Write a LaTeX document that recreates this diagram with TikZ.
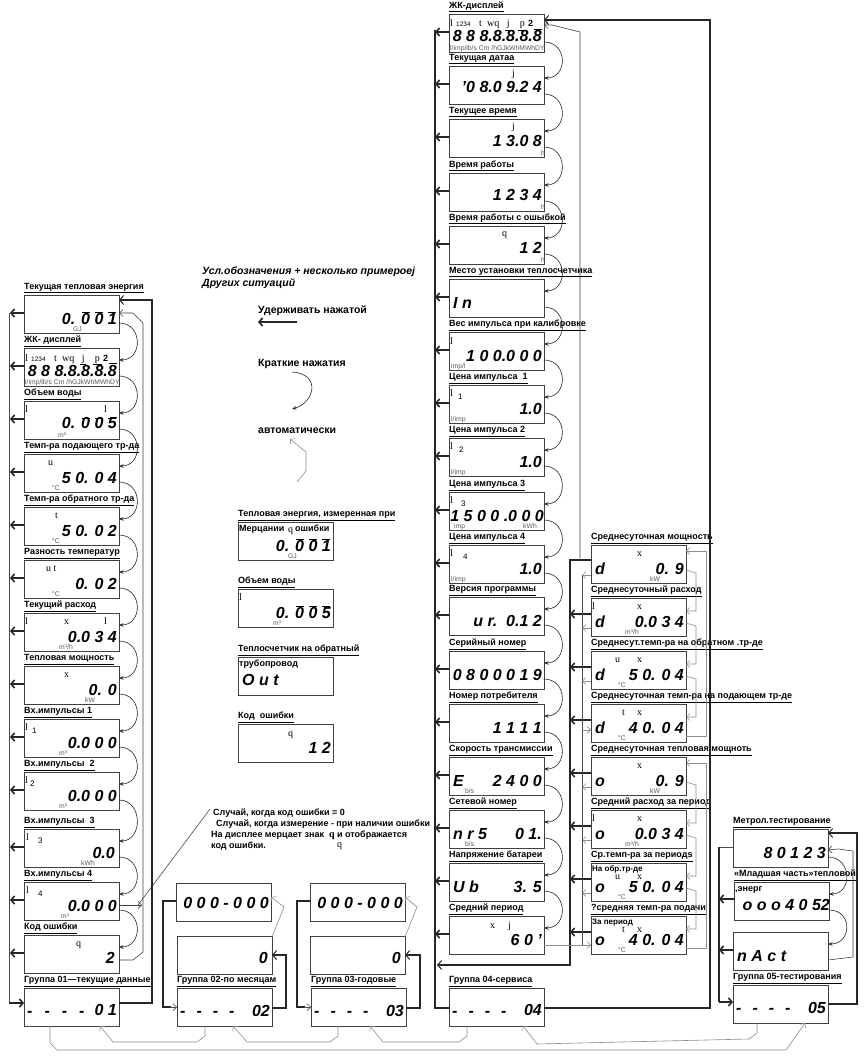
\documentclass[tikz,border=0pt]{standalone}
\usepackage{fontspec}
\setmainfont{Liberation Sans}
\newfontfamily\serf{Liberation Serif}
\usetikzlibrary{arrows.meta,calc}
\newcommand{\lblf}{\fontsize{9}{10}\selectfont\bfseries}
\newcommand{\legf}{\fontsize{10.5}{12}\selectfont\bfseries}
\newcommand{\bigf}{\fontsize{16}{16}\selectfont\bfseries\itshape}
\newcommand{\symf}{\fontsize{10}{10}\selectfont\serf}
\newcommand{\unitfont}{\fontsize{6.8}{7}\selectfont}
\tikzset{
 lcdbox/.style={draw=black!75, line width=0.7pt, minimum width=95pt, minimum height=38pt, anchor=north west, inner sep=0pt, outer sep=0pt},
 lbl/.style={anchor=south west, inner sep=0pt, yshift=1.5pt, font=\lblf},
 digs/.style={anchor=base east, inner sep=0pt, font=\bigf},
 symb/.style={anchor=base west, inner sep=0pt, font=\symf},
 unitf/.style={anchor=base west, inner sep=0pt, font=\unitfont, text=black!65},
 holdarrow/.style={line width=1.6pt, black!85, -{Straight Barb[length=3.5pt,width=8pt]}},
 pressarr/.style={line width=0.6pt, black!85, -{Stealth[length=4.5pt,width=3.5pt]}},
 autoarr/.style={line width=0.6pt, black!45, -{Straight Barb[length=3.5pt,width=7pt]}},
 autoblk/.style={line width=0.6pt, black!75, -{Straight Barb[length=3.5pt,width=7pt]}},
 thinline/.style={line width=0.6pt, black!70},
 thickline/.style={line width=2.3pt, black!85},
 thickarr/.style={line width=2.3pt, black!85, -{Straight Barb[length=4pt,width=9pt,line width=1pt]}}
}
\newcommand{\mybox}[4]{\node[lcdbox] (#1) at (#2,#3) {}; \node[lbl] at (#1.north west) {\underline{#4}};}
\newcommand{\myboxnl}[3]{\node[lcdbox] (#1) at (#2,#3) {};}
\newcommand{\mydg}[3][9]{\node[digs] at ([xshift=-2pt,yshift=#1pt]#2.south east) {#3};}
\newcommand{\mydgl}[3][9]{\node[digs,anchor=base west] at ([xshift=4pt,yshift=#1pt]#2.south west) {#3};}
\newcommand{\mysy}[4][11]{\node[symb] at ([xshift=#3pt,yshift=-#1pt]#2.north west) {#4};}
\newcommand{\mysm}[3]{\node[anchor=base west,inner sep=0pt,font=\fontsize{8}{8}\selectfont] at ([xshift=#2pt,yshift=-14pt]#1.north west) {#3};}
\newcommand{\myun}[3]{\node[unitf] at ([xshift=#2pt,yshift=1.5pt]#1.south west) {#3};}
\newcommand{\myin}[3][1]{\node[anchor=base west,inner sep=0pt,font=\lblf] at ([xshift=#1pt,yshift=-9pt]#2.north west) {#3};}
\newcommand{\myinsm}[2]{\node[anchor=base west,inner sep=0pt,font=\fontsize{8}{9}\selectfont\bfseries] at ([xshift=1pt,yshift=-8.5pt]#1.north west) {#2};}
\newcommand{\myovl}[1]{\foreach \xx in {58,71,84}{\draw[line width=0.8pt] ([xshift=\xx pt,yshift=-17pt]#1.north west) -- ++(8,0);}}
\newcommand{\myprs}[2]{\draw[pressarr] ([yshift=10pt]#1.south east) .. controls +(24,0) and +(24,0) .. ([yshift=-12pt]#2.north east);}
\newcommand{\myhold}[3][18]{\draw[holdarrow] ([yshift=-#1pt]#2.north west) -- ++(-#3,0);}
\newcommand{\mydash}[2][11]{\node[digs,anchor=base west] at ([xshift=3pt,yshift=10pt]#2.south west) {-\hspace{#1pt}-\hspace{#1pt}-\hspace{#1pt}-};}
\newcommand{\mylcdfull}[1]{%
 \mysy[13]{#1}{1}{l}%
 \node[anchor=base west,inner sep=0pt,font=\fontsize{6.5}{7}\selectfont] at ([xshift=7pt,yshift=-13pt]#1.north west) {1234};%
 \mysy[13]{#1}{30}{t}%
 \mysy[13]{#1}{38}{wq}%
 \mysy[13]{#1}{56}{\underline{\,j\,}}%
 \mysy[13]{#1}{69}{\underline{\,p\,}}%
 \node[anchor=base west,inner sep=0pt,font=\fontsize{9}{9}\selectfont\bfseries] at ([xshift=79pt,yshift=-13pt]#1.north west) {2};%
 \draw[line width=0.6pt] ([xshift=85pt,yshift=-15pt]#1.north west) -- ++(8,0);%
 \mydg[10]{#1}{8 8 8.8.8.8.8}%
 \node[unitf] at ([xshift=1pt,yshift=1.2pt]#1.south west) {l/imp/lb/s Cm /hGJkWhMWhDY};}
\begin{document}
\begin{tikzpicture}[x=1pt,y=-1pt]
\fill[white] (0,0) rectangle (863,1056);
\useasboundingbox (0,0) rectangle (863,1056);

% ---------------- left column (group 01)
\mybox{L1}{24}{295}{Текущая тепловая энергия}
\mydg{L1}{0. 0 0 1}\myovl{L1}\myun{L1}{49}{GJ}
\mybox{L2}{24}{348}{ЖК- дисплей}\mylcdfull{L2}
\mybox{L3}{24}{401}{Объем воды}
\mydg[11]{L3}{0. 0 0 5}\myovl{L3}\mysy{L3}{1}{l}\mysy{L3}{80}{l}\myun{L3}{34}{m³}
\mybox{L4}{24}{454}{Темп-ра подающего тр-да}
\mydg{L4}{5 0. 0 4}\mysy{L4}{24}{u}\myun{L4}{28}{°C}
\mybox{L5}{24}{507}{Темп-ра обратного тр-да}
\mydg{L5}{5 0. 0 2}\mysy{L5}{31}{t}\myun{L5}{28}{°C}
\mybox{L6}{24}{560}{Разность температур}
\mydg{L6}{0. 0 2}\mysy{L6}{22}{u t}\myun{L6}{28}{°C}
\mybox{L7}{24}{613}{Текущий расход}
\mydg{L7}{0.0 3 4}\mysy{L7}{1}{l}\mysy{L7}{40}{x}\mysy{L7}{80}{l}\myun{L7}{35}{m³/h}
\mybox{L8}{24}{666}{Тепловая мощность}
\mydg{L8}{0. 0}\mysy{L8}{40}{x}\myun{L8}{61}{kW}
\mybox{L9}{24}{719}{Вх.импульсы 1}
\mydg{L9}{0.0 0 0}\mysy{L9}{1}{l}\mysm{L9}{8}{1}\myun{L9}{35}{m³}
\mybox{L10}{24}{772}{Вх.импульсы\ \ 2}
\mydg{L10}{0.0 0 0}\mysy{L10}{1}{l}\mysm{L10}{6}{2}\myun{L10}{35}{m³}
\mybox{L11}{24}{829}{Вх.импульсы\ \ 3}
\node[digs] at ([xshift=-4pt,yshift=9pt]L11.south east) {0.0};
\mysy{L11}{2}{l}\mysm{L11}{14}{3}\myun{L11}{57}{kWh}
\mybox{L12}{24}{882}{Вх.импульсы 4}
\mydg{L12}{0.0 0 0}\mysy{L12}{2}{l}\mysm{L12}{14}{4}\myun{L12}{37}{m³}
\mybox{L13}{24}{935}{Код ошибки}
\node[digs] at ([xshift=-4pt,yshift=10pt]L13.south east) {2};
\mysy{L13}{52}{q}
\mybox{G1}{24}{988}{Группа 01—текущие данные}
\mydash[12]{G1}\mydg[11]{G1}{0 1}

% ---------------- middle column (group 04)
\mybox{M1}{449}{14}{ЖК-дисплей}\mylcdfull{M1}
\mybox{M2}{449}{66}{Текущая датаа}
\mydg[11]{M2}{'0 8.0 9.2 4}\mysy{M2}{63}{j}
\mybox{M3}{449}{119}{Текущее время}
\mydg[10]{M3}{1 3.0 8}\mysy{M3}{63}{j}\myun{M3}{92}{h}
\mybox{M4}{449}{173}{Время работы}
\mydg[10]{M4}{1 2 3 4}\myun{M4}{92}{h}
\mybox{M5}{449}{226}{Время работы с ошыбкой}
\mydg[10]{M5}{1 2}\mysy{M5}{53}{q}\myun{M5}{92}{h}
\mybox{M6}{449}{279}{Место установки теплосчетчика}
\mydgl{M6}{I n}
\mybox{M7}{449}{332}{Вес импульса при калибровке}
\mydg{M7}{1 0 0.0 0 0}\mysy[12]{M7}{1}{l}\myun{M7}{2}{imp/l}
\mybox{M8}{449}{385}{Цена импульса\ \ 1}
\mydg{M8}{1.0}\mysy{M8}{1}{l}\mysm{M8}{9}{1}\myun{M8}{2}{l/imp}
\mybox{M9}{449}{438}{Цена импульса 2}
\mydg{M9}{1.0}\mysy{M9}{1}{l}\mysm{M9}{10}{2}\myun{M9}{2}{l/imp}
\mybox{M10}{449}{492}{Цена импульса 3}
\node[digs] at ([xshift=0pt,yshift=9pt]M10.south east) {1 5 0 0 .0 0 0};
\mysy{M10}{1}{l}\mysm{M10}{12}{3}\myun{M10}{5}{imp}\myun{M10}{74}{kWh}
\mybox{M11}{449}{545}{Цена импульса 4}
\mydg{M11}{1.0}\mysy{M11}{1}{l}\mysm{M11}{14}{4}\myun{M11}{2}{l/imp}
\mybox{M12}{449}{597}{Версия программы}
\mydg{M12}{u r.\ \ 0.1 2}
\mybox{M13}{449}{651}{Серийный номер}
\mydg{M13}{0 8 0 0 0 1 9}
\mybox{M14}{449}{704}{Номер потребителя}
\mydg{M14}{1 1 1 1}
\mybox{M15}{449}{757}{Скорость трансмиссии}
\mydgl{M15}{E}\mydg{M15}{2 4 0 0}\myun{M15}{16}{b/s}
\mybox{M16}{449}{810}{Сетевой номер}
\mydgl{M16}{n r 5}\mydg{M16}{0 1.}\myun{M16}{16}{b/s}
\mybox{M17}{449}{863}{Напряжение батареи}
\mydgl{M17}{U b}\mydg{M17}{3. 5}
\mybox{M18}{449}{916}{Средний период}
\mysy[12]{M18}{41}{x}\mysy[12]{M18}{59}{j}\mydg{M18}{6 0 '}
\mybox{G4}{449}{988}{Группа 04-сервиса}
\mydash{G4}\mydg[11]{G4}{04}

% ---------------- right column (averages)
\mybox{R1}{591}{545}{Среднесуточная мощность}
\mydgl{R1}{d}\mysy{R1}{46}{x}\mydg{R1}{0. 9}\myun{R1}{59}{kW}
\mybox{R2}{591}{598}{Среднесуточный расход}
\mydgl{R2}{d}\mysy{R2}{1}{l}\mysy{R2}{46}{x}\mydg{R2}{0.0 3 4}\myun{R2}{34}{m³/h}
\mybox{R3}{591}{651}{Среднесут.темп-ра на обратном .тр-де}
\mydgl{R3}{d}\mysy{R3}{24}{u}\mysy{R3}{46}{x}\mydg{R3}{5 0. 0 4}\myun{R3}{27}{°C}
\mybox{R4}{591}{704}{Среднесуточная темп-ра на подающем тр-де}
\mydgl{R4}{d}\mysy{R4}{31}{t}\mysy{R4}{46}{x}\mydg{R4}{4 0. 0 4}\myun{R4}{27}{°C}
\mybox{R5}{591}{757}{Среднесуточная тепловая мощноть}
\mydgl{R5}{o}\mysy{R5}{46}{x}\mydg{R5}{0. 9}\myun{R5}{59}{kW}
\mybox{R6}{591}{810}{Средний расход за период}
\mydgl{R6}{o}\mysy{R6}{1}{l}\mysy{R6}{46}{x}\mydg{R6}{0.0 3 4}\myun{R6}{34}{m³/h}
\mybox{R7}{591}{863}{Ср.темп-ра за периодs}
\myinsm{R7}{На обр.тр-де}\mysy[16]{R7}{24}{u}\mysy[16]{R7}{46}{x}
\mydgl{R7}{o}\mydg{R7}{5 0. 0 4}\myun{R7}{27}{°C}
\mybox{R8}{591}{916}{?средняя темп-ра подачи}
\myinsm{R8}{За период}\mysy[16.5]{R8}{31}{t}\mysy[16]{R8}{46}{x}
\mydgl{R8}{o}\mydg{R8}{4 0. 0 4}\myun{R8}{27}{°C}

% ---------------- groups 02, 03
\myboxnl{T2a}{176}{883}\mydg[13]{T2a}{0 0 0 - 0 0 0}
\myboxnl{T2b}{177}{936}\node[digs] at ([xshift=-4pt,yshift=11pt]T2b.south east) {0};
\mybox{G2}{177}{988}{Группа 02-по месяцам}\mydash{G2}\mydg[10]{G2}{02}
\myboxnl{T3a}{310}{883}\mydg[13]{T3a}{0 0 0 - 0 0 0}
\myboxnl{T3b}{310}{936}\node[digs] at ([xshift=-4pt,yshift=11pt]T3b.south east) {0};
\mybox{G3}{311}{988}{Группа 03-годовые}\mydash{G3}\mydg[10]{G3}{03}

% ---------------- group 05
\mybox{P1}{733}{829}{Метрол.тестирование}\mydg{P1}{8 0 1 2 3}
\mybox{P2}{734}{882}{«Младшая часть»тепловой}\myin{P2}{,энерг}
\node[digs] at ([xshift=1pt,yshift=10pt]P2.south east) {o o o 4 0 52};
\myboxnl{P3}{733}{932}\mydgl{P3}{n A c t}
\mybox{G5}{733}{985}{Группа 05-тестирования}\mydash{G5}\mydg[10]{G5}{05}

% ---------------- examples
\mybox{E1}{238}{522}{Тепловая энергия, измеренная при}
\myin{E1}{Мерцании}\mysy[10]{E1}{50}{q}\myin[57]{E1}{ошибки}
\mydg{E1}{0. 0 0 1}\myovl{E1}\myun{E1}{50}{GJ}
\mybox{E2}{238}{589}{Объем воды}
\mysy{E2}{1}{l}\mydg{E2}{0. 0 0 5}\myovl{E2}\myun{E2}{35}{m³}
\mybox{E3}{238}{657}{Теплосчетчик на обратный}
\myin{E3}{трубопровод}\mydgl[10]{E3}{O u t}
\mybox{E4}{238}{724}{Код\ \ ошибки}
\mysy[12]{E4}{50}{q}\mydg{E4}{1 2}

% ---------------- legend
\node[anchor=base west,inner sep=0pt,font=\legf\itshape] (lg1) at (202,275) {Усл.обозначения + несколько примероеj};
\node[anchor=base west,inner sep=0pt,font=\legf\itshape] (lg2) at (202,287) {Других ситуаций};
\node[anchor=base west,inner sep=0pt,font=\legf] (lgh) at (258,313) {Удерживать нажатой};
\coordinate (ha1) at (297,322); \coordinate (ha2) at (258,322);
\draw[holdarrow] (ha1) -- (ha2);
\node[anchor=base west,inner sep=0pt,font=\legf] (lgk) at (258,366) {Краткие нажатия};
\coordinate (ka1) at (292,372); \coordinate (ka2) at (292,409);
\draw[pressarr] (ka1) .. controls +(30,2) and +(22,-6) .. (ka2);
\node[anchor=base west,inner sep=0pt,font=\legf] (lga) at (258,433) {автоматически};
\coordinate (aa1) at (297,482); \coordinate (aa2) at (290,439);
\draw[autoarr] (aa1) -- (306,471) -- (306,452) -- (aa2);

% ---------------- case text
\node[anchor=base west,inner sep=0pt,font=\lblf] (c1) at (213,815) {Случай, когда код ошибки = 0};
\node[anchor=base west,inner sep=0pt,font=\lblf] (c2) at (216,826) {Случай, когда измерение - при наличии ошибки};
\node[anchor=base west,inner sep=0pt,font=\lblf] (c3) at (211,837) {На дисплее мерцает знак\ \ {\symf q} и отображается};
\node[anchor=base west,inner sep=0pt,font=\lblf] (c4) at (211,848) {код ошибки.};
\node[anchor=base west,inner sep=0pt,font=\symf] (c5) at (337,847) {q};
\coordinate (dl1) at (210,809); \coordinate (dl2) at (138,905);
\draw[thinline] (dl1) -- (dl2);

% ---------------- left column connectors
\foreach \nn in {L1,L2,L3,L4,L5,L6,L7,L8,L9,L10,L11,L12,L13}{\myhold{\nn}{14}}
\foreach \pa/\pb in {L1/L2,L2/L3,L3/L4,L4/L5,L5/L6,L6/L7,L7/L8,L8/L9,L9/L10,L10/L11,L11/L12,L12/L13}{\myprs{\pa}{\pb}}
\draw[thinline] ([xshift=-15pt,yshift=-18pt]L1.north west) -- ([xshift=-15pt,yshift=-15pt]G1.north west);
\draw[holdarrow] ([xshift=-15pt,yshift=-15pt]G1.north west) -- ([yshift=-15pt]G1.north west);
\draw[thickarr] ([yshift=-15pt]G1.north east) -- ++(33,0) |- ([yshift=-5pt]L1.north east);
\draw[autoblk] ([yshift=-25pt]L13.north east) -- ++(14,0) -- ++(10,-8) -- ([xshift=24pt,yshift=-28pt]L1.north east) -- ([xshift=14pt,yshift=-18pt]L1.north east) -- ([yshift=-18pt]L1.north east);
\draw[autoblk] ([yshift=-23pt]L12.north east) -- ++(23,0);

% ---------------- middle column connectors
\foreach \nn in {M1,M2,M3,M4,M5,M6,M7,M8,M9,M10,M11,M12,M13,M14,M15,M16,M17,M18}{\myhold{\nn}{14}}
\foreach \pa/\pb in {M1/M2,M2/M3,M3/M4,M4/M5,M5/M6,M6/M7,M7/M8,M8/M9,M9/M10,M10/M11,M11/M12,M12/M13,M13/M14,M14/M15,M15/M16,M16/M17,M17/M18}{\myprs{\pa}{\pb}}
\draw[thickline] ([xshift=-14pt,yshift=-16pt]M1.north west) -- ([xshift=-14pt,yshift=-20pt]G4.north west) -- ([yshift=-20pt]G4.north west);
\draw[thickarr] ([yshift=-20pt]G4.north east) -- ++(166,0) |- ([yshift=-6pt]M1.north east);
\draw[autoblk] ([xshift=-11pt,yshift=-13pt]R1.north west) -- ([xshift=36pt,yshift=-18pt]M1.north east) -- ([xshift=8pt,yshift=-11pt]M1.north east) -- ([yshift=-11pt]M1.north east);

% ---------------- right column connectors
\draw[thickarr] ([yshift=-15pt]R1.north west) -- ++(-21,0) -- ([xshift=-21pt,yshift=-49pt]R8.north west) -- ([xshift=-12pt,yshift=-49pt]M18.north west);
\foreach \nn in {R2,R3,R4,R5,R6,R7,R8}{\myhold[16]{\nn}{21}}
\draw[thinline] ([xshift=-9pt,yshift=-30pt]R1.north west) -- ([xshift=-9pt,yshift=-29pt]R8.north west);
\foreach \nn in {R1,R2,R3,R5,R6,R7}{\draw[autoarr] ([yshift=-30pt]\nn.north west) -- ++(-9,0);}
\draw[autoarr] ([xshift=-9pt,yshift=-26pt]R4.north west) -- ([yshift=-26pt]R4.north west);
\draw[autoarr] ([yshift=-29pt]M18.north east) -- ([yshift=-29pt]R8.north west);
\foreach \pa/\pb in {R1/R2,R2/R3,R3/R4,R5/R6,R6/R7,R7/R8}{\draw[autoarr] ([yshift=13pt]\pa.south east) -- ++(10,3) |- ([yshift=-13pt]\pb.north east);}
\draw[autoarr] ([yshift=6pt]R4.south east) -- ++(20,0) |- ([yshift=-6pt]R1.north east);
\draw[autoarr] ([yshift=6pt]R8.south east) -- ++(20,0) |- ([yshift=-6pt]R5.north east);

% ---------------- groups 02/03 connectors
\foreach \ta/\tb/\gg in {T2a/T2b/G2,T3a/T3b/G3}{
 \draw[thickarr] ([yshift=-20pt]\gg.north east) -- ++(14,0) |- ([yshift=-19pt]\tb.north east);
 \draw[thickline] ([yshift=-18pt]\ta.north west) -- ++(-13,0) |- ([xshift=-6pt,yshift=-19pt]\gg.north west);
 \draw[thinline,-{Straight Barb[length=3.5pt,width=7pt]}] ([xshift=-7pt,yshift=-19pt]\gg.north west) -- ([yshift=-19pt]\gg.north west);
 \draw[autoarr] ([yshift=-1pt]\tb.north east) -- ++(12,-30) -- ([yshift=-14pt]\ta.north east);
}

% ---------------- group 05 connectors
\draw[thinline] ([yshift=-18pt]P1.north west) -- ++(-14,0);
\draw[thickline] ([xshift=-14pt,yshift=-18pt]P1.north west) -- ([xshift=-14pt,yshift=-17pt]G5.north west);
\draw[holdarrow] ([xshift=-14pt,yshift=-17pt]G5.north west) -- ([yshift=-17pt]G5.north west);
\myhold[17]{P2}{15}\myhold{P3}{14}
\draw[thickarr] ([yshift=-19pt]G5.north east) -- ++(29,0) |- ([yshift=-4pt]P1.north east);
\draw[autoblk] ([yshift=-28pt]P3.north east) -- ++(25,-3) -- ([xshift=25pt,yshift=-22pt]P1.north east) -- ([xshift=10pt,yshift=-20pt]P1.north east) -- ([yshift=-21pt]P1.north east);
\myprs{P1}{P2}\myprs{P2}{P3}

% ---------------- bottom automatic connectors between groups
\draw[autoarr] ([xshift=28pt]G2.south west) -- ++(0,10) -- ++(-8,6) -- ([xshift=89pt,yshift=-16pt]G1.south west) -- ([xshift=76pt]G1.south west);
\draw[autoarr] ([xshift=27pt]G3.south west) -- ++(0,10) -- ++(-8,6) -- ([xshift=70pt,yshift=-16pt]G2.south west) -- ([xshift=56pt]G2.south west);
\draw[autoarr] ([xshift=18pt]G4.south west) -- ++(0,10) -- ++(-8,6) -- ([xshift=72pt,yshift=-16pt]G3.south west) -- ([xshift=59pt]G3.south west);
\draw[autoarr] ([xshift=24pt]G5.south west) -- ++(0,10) -- ++(-8,6) -- ([xshift=88pt,yshift=-18pt]G4.south west) -- ([xshift=74pt]G4.south west);
\draw[autoarr] ([xshift=26pt]G1.south west) -- ++(0,17) -- ++(7,7) -- ([xshift=53pt,yshift=-27pt]G5.south west) -- ([xshift=72pt]G5.south west);
\end{tikzpicture}
\end{document}
